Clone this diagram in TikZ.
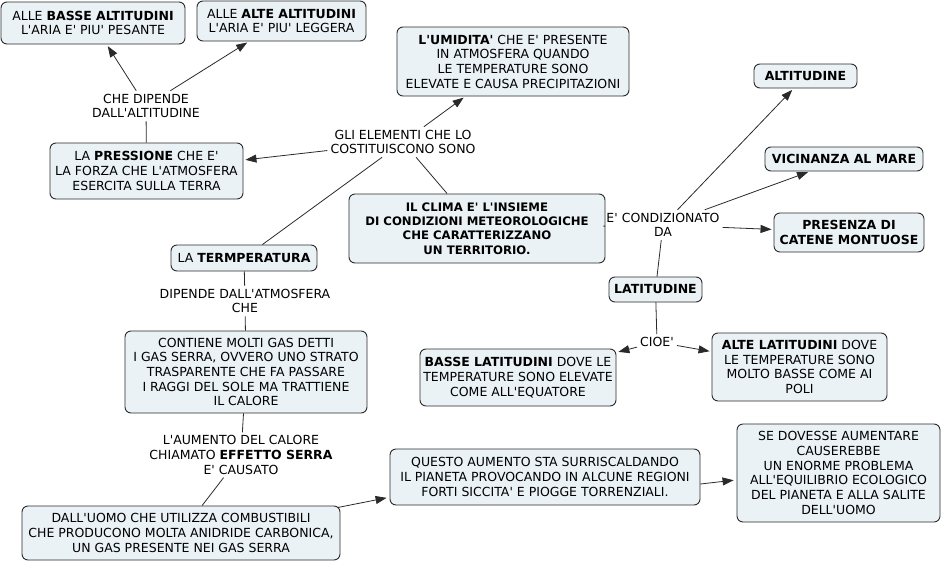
\documentclass[tikz,border=0pt]{standalone}
\usepackage{fontspec}
\setmainfont{DejaVu Sans}[Ligatures=TeXOff]
\usetikzlibrary{arrows.meta,calc}
\definecolor{boxfill}{HTML}{EBF2F5}
\definecolor{edge}{HTML}{2A2A2A}
\begin{document}
\begin{tikzpicture}[x=1pt,y=-1pt,
  font=\fontsize{12.5}{14.7}\selectfont,
  box/.style={draw=edge, fill=boxfill, rounded corners=6pt, align=center, inner sep=2pt, line width=0.9pt},
  bbox/.style={box, font=\fontsize{12.5}{14.7}\selectfont\bfseries},
  lbl/.style={align=center, inner sep=3pt},
  con/.style={draw=edge, line width=0.8pt},
  arr/.style={con, shorten >=2pt, -{Triangle[length=11pt,width=8pt]}}]
\useasboundingbox (0,0) rectangle (942,562);

% concept boxes
\node[box, minimum width=184pt, minimum height=42pt] (bassealt) at (93,23) {ALLE \textbf{BASSE ALTITUDINI}\\L'ARIA E' PIU' PESANTE};
\node[box, minimum width=169pt, minimum height=40pt] (altealt) at (281.5,21) {ALLE \textbf{ALTE ALTITUDINI}\\L'ARIA E' PIU' LEGGERA};
\node[box, minimum width=232pt, minimum height=69pt] (umidita) at (513,61.5) {\textbf{L'UMIDITA'} CHE E' PRESENTE\\IN ATMOSFERA QUANDO\\LE TEMPERATURE SONO\\ELEVATE E CAUSA PRECIPITAZIONI};
\node[box, minimum width=193pt, minimum height=56pt] (pressione) at (146.5,171) {LA \textbf{PRESSIONE} CHE E'\\LA FORZA CHE L'ATMOSFERA\\ESERCITA SULLA TERRA};
\node[box, minimum width=256pt, minimum height=69pt, font=\fontsize{11.7}{14.3}\selectfont\bfseries] (clima) at (477,228.5) {IL CLIMA E' L'INSIEME\\DI CONDIZIONI METEOROLOGICHE\\CHE CARATTERIZZANO\\UN TERRITORIO.};
\node[bbox, minimum width=103pt, minimum height=24pt] (altitudine) at (805.5,76) {ALTITUDINE};
\node[bbox, minimum width=158pt, minimum height=24pt] (vicinanza) at (844,159) {VICINANZA AL MARE};
\node[bbox, minimum width=150pt, minimum height=39pt] (presenza) at (849,232.5) {PRESENZA DI\\CATENE MONTUOSE};
\node[box, minimum width=146pt, minimum height=26pt] (temp) at (244,258) {LA \textbf{TERMPERATURA}};
\node[bbox, minimum width=93pt, minimum height=25pt] (latitudine) at (655.5,289.5) {LATITUDINE};
\node[box, minimum width=242pt, minimum height=82pt] (contiene) at (246,372) {CONTIENE MOLTI GAS DETTI\\I GAS SERRA, OVVERO UNO STRATO\\TRASPARENTE CHE FA PASSARE\\I RAGGI DEL SOLE MA TRATTIENE\\IL CALORE};
\node[box, minimum width=196pt, minimum height=57pt] (basselat) at (518,377.5) {\textbf{BASSE LATITUDINI} DOVE LE\\TEMPERATURE SONO ELEVATE\\COME ALL'EQUATORE};
\node[box, minimum width=175pt, minimum height=68pt] (altelat) at (799.5,367) {\textbf{ALTE LATITUDINI} DOVE\\LE TEMPERATURE SONO\\MOLTO BASSE COME AI\\POLI};
\node[box, minimum width=310pt, minimum height=56pt] (questo) at (545,477) {QUESTO AUMENTO STA SURRISCALDANDO\\IL PIANETA PROVOCANDO IN ALCUNE REGIONI\\FORTI SICCITA' E PIOGGE TORRENZIALI.};
\node[box, minimum width=203pt, minimum height=98pt] (sedov) at (838.5,473) {SE DOVESSE AUMENTARE\\CAUSEREBBE\\UN ENORME PROBLEMA\\ALL'EQUILIBRIO ECOLOGICO\\DEL PIANETA E ALLA SALITE\\DELL'UOMO};
\node[box, minimum width=318pt, minimum height=54pt] (uomo) at (181,533) {DALL'UOMO CHE UTILIZZA COMBUSTIBILI\\CHE PRODUCONO MOLTA ANIDRIDE CARBONICA,\\UN GAS PRESENTE NEI GAS SERRA};

% linking phrases
\node[lbl] (dipalt) at (146,106) {CHE DIPENDE\\DALL'ALTITUDINE};
\node[lbl] (elem) at (403,142) {GLI ELEMENTI CHE LO\\COSTITUISCONO SONO};
\node[lbl] (cond) at (663,225) {E' CONDIZIONATO\\DA};
\node[lbl] (dipatm) at (245,301) {DIPENDE DALL'ATMOSFERA\\CHE};
\node[lbl] (cioe) at (657,342) {CIOE'};
\node[lbl] (aum) at (241,455) {L'AUMENTO DEL CALORE\\CHIAMATO \textbf{EFFETTO SERRA}\\E' CAUSATO};

% connectors
\draw[con] (pressione) -- (dipalt);
\draw[arr] (dipalt) -- (bassealt);
\draw[arr] (dipalt) -- (altealt);
\draw[con] (clima) -- (elem);
\draw[arr] (elem) -- (pressione);
\draw[arr] (elem) -- (umidita);
\draw[con] (elem) -- (temp);
\draw[con] (clima) -- (cond);
\draw[arr] (cond) -- (altitudine);
\draw[arr] (cond) -- (vicinanza);
\draw[arr] (cond) -- (presenza);
\draw[con] (cond) -- (latitudine);
\draw[con] (latitudine) -- (cioe);
\draw[arr] (cioe) -- (basselat);
\draw[arr] (cioe) -- (altelat);
\draw[con] (temp) -- (dipatm);
\draw[con] (dipatm) -- (contiene);
\draw[con] (contiene) -- (aum);
\draw[con] (aum) -- (uomo);
\draw[arr] ($(uomo.north east)+(-3,2)$) -- ($(questo.south west)+(-1,-8)$);
\draw[arr] ($(questo.east)+(0,7)$) -- ($(sedov.west)+(-1,7)$);
\end{tikzpicture}
\end{document}
